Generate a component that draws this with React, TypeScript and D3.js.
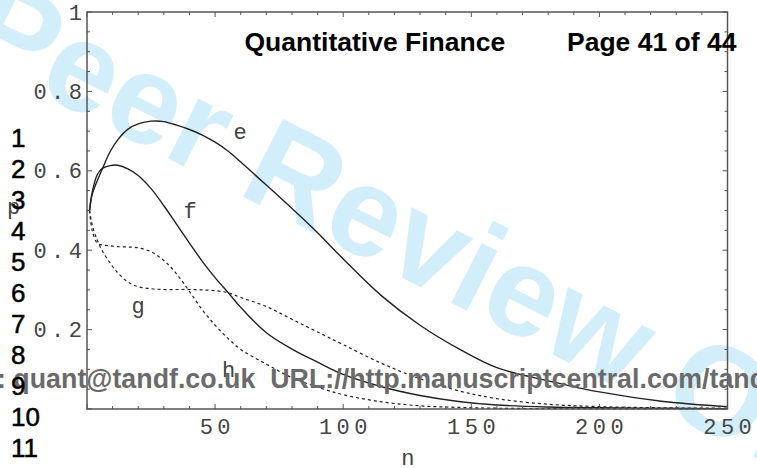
import React from 'react';
import * as d3 from 'd3';

// sample points along n, shared by all four curves
const nValues = [1, 2, 4, 6, 9, 12, 16, 20, 25, 30, 35, 40, 45, 50, 55, 60, 70, 80, 90, 100, 115, 130, 145, 160, 180, 200, 225, 250];

// solid curves
const seriesE = [0.5, 0.54, 0.575, 0.605, 0.648, 0.678, 0.705, 0.718, 0.725, 0.724, 0.715, 0.704, 0.69, 0.672, 0.65, 0.622, 0.564, 0.505, 0.444, 0.378, 0.285, 0.211, 0.152, 0.104, 0.071, 0.043, 0.019, 0.006];
const seriesF = [0.5, 0.545, 0.59, 0.606, 0.613, 0.614, 0.605, 0.588, 0.555, 0.512, 0.465, 0.418, 0.372, 0.331, 0.294, 0.256, 0.192, 0.151, 0.118, 0.087, 0.056, 0.034, 0.019, 0.01, 0.005, 0.003, 0.002, 0.001];
// dashed curves
const seriesG = [0.5, 0.465, 0.425, 0.398, 0.368, 0.343, 0.32, 0.308, 0.303, 0.301, 0.301, 0.301, 0.3, 0.298, 0.293, 0.281, 0.258, 0.226, 0.194, 0.162, 0.115, 0.076, 0.046, 0.026, 0.012, 0.006, 0.003, 0.002];
const seriesH = [0.5, 0.45, 0.418, 0.413, 0.411, 0.409, 0.408, 0.406, 0.396, 0.374, 0.34, 0.296, 0.25, 0.211, 0.178, 0.15, 0.113, 0.079, 0.055, 0.036, 0.018, 0.008, 0.004, 0.002, 0.001, 0.0005, 0.0003, 0.0002];

const xTickLabels = [50, 100, 150, 200, 250];
const yTickLabels = [0.2, 0.4, 0.6, 0.8, 1];

// curve names and where they sit (in data units)
const curveLabels = [
  { name: 'e', n: 59.8, p: 0.68 },
  { name: 'f', n: 40.2, p: 0.481 },
  { name: 'g', n: 19.9, p: 0.242 },
  { name: 'h', n: 55.3, p: 0.081 },
];

const lineNumbers = ['1', '2', '3', '4', '5', '6', '7', '8', '9', '10', '11'];

const W = 757;
const H = 468;
const margin = { top: 12, right: 29.5, bottom: 59, left: 87 };

const mono = '"Liberation Mono", "DejaVu Sans Mono", monospace';
const sans = '"Liberation Sans", Arial, sans-serif';
const LS = 4.5; // letter spacing of the tick labels

export default function App() {
  const x = d3.scaleLinear().domain([0, 250]).range([margin.left, W - margin.right]);
  const y = d3.scaleLinear().domain([0, 1]).range([H - margin.bottom, margin.top]);

  const line = d3.line<[number, number]>()
    .x(d => x(d[0]))
    .y(d => y(d[1]))
    .curve(d3.curveCatmullRom.alpha(0.5));

  const series = [
    { values: seriesE, dash: null },
    { values: seriesF, dash: null },
    { values: seriesG, dash: '3,3' },
    { values: seriesH, dash: '3,3' },
  ];

  const x0 = x(0), x1 = x(250), y0 = y(0), y1 = y(1);
  const xMinor = x.ticks(25);
  const xMajor = x.ticks(5);
  const yMinor = y.ticks(20);
  const yMajor = y.ticks(5);

  return (
    <svg width={W} height={H} style={{ position: 'absolute', left: 0, top: 0, background: '#fff' }}>
      {/* watermark */}
      <text
        transform="translate(-41,52) rotate(27)"
        fontFamily={sans}
        fontWeight="bold"
        fontSize={127}
        fill="#d3eefb"
        style={{ whiteSpace: 'pre' }}
      >
        Peer Review Only
      </text>

      {/* curves */}
      {series.map((s, i) => (
        <path
          key={i}
          d={line(nValues.map((n, j) => [n, s.values[j]] as [number, number])) || ''}
          fill="none"
          stroke="#222"
          strokeWidth={s.dash ? 1.2 : 1.4}
          strokeDasharray={s.dash || undefined}
        />
      ))}

      {/* frame */}
      <rect x={x0} y={y1} width={x1 - x0} height={y0 - y1} fill="none" stroke="#555" strokeWidth={1.5} />

      {/* ticks on all four sides */}
      <g stroke="#555" strokeWidth={1}>
        {xMinor.map(t => {
          const len = xMajor.includes(t) ? 5 : 3;
          return (
            <g key={'x' + t}>
              <line x1={x(t)} x2={x(t)} y1={y0} y2={y0 - len} />
              <line x1={x(t)} x2={x(t)} y1={y1} y2={y1 + len} />
            </g>
          );
        })}
        {yMinor.map(t => {
          const len = yMajor.some(m => Math.abs(m - t) < 1e-9) ? 5 : 3;
          return (
            <g key={'y' + t}>
              <line x1={x0} x2={x0 + len} y1={y(t)} y2={y(t)} />
              <line x1={x1} x2={x1 - len} y1={y(t)} y2={y(t)} />
            </g>
          );
        })}
      </g>

      {/* tick labels */}
      <g fontFamily={mono} fontSize={22} fill="#444" letterSpacing={LS}>
        {xTickLabels.map(t => (
          <text key={t} x={x(t) + LS / 2} y={434} textAnchor="middle">{t}</text>
        ))}
        {yTickLabels.map(t => (
          <text key={t} x={x0 + LS - 5} y={y(t) + 7.5} textAnchor="end">{d3.format('~g')(t)}</text>
        ))}
      </g>

      {/* axis and curve labels */}
      <g fontFamily={mono} fontSize={22} fill="#444">
        <text x={(x0 + x1) / 2 + 0.5} y={465} textAnchor="middle">n</text>
        <text x={13.5} y={214} textAnchor="middle">p</text>
        {curveLabels.map(c => (
          <text key={c.name} x={x(c.n)} y={y(c.p)} textAnchor="middle">{c.name}</text>
        ))}
      </g>

      {/* footer */}
      <text x={-3} y={388} fontFamily={sans} fontWeight="bold" fontSize={26.8} fill="#6a6a6a" style={{ whiteSpace: 'pre' }}>
        {': quant@tandf.co.uk  URL://http.manuscriptcentral.com/tand'}
      </text>

      {/* line numbers */}
      <g fontFamily={sans} fontSize={26} fill="#000" stroke="#000" strokeWidth={0.5}>
        {lineNumbers.map((s, i) => (
          <text key={s} x={11} y={147 + i * 31}>{s}</text>
        ))}
      </g>

      {/* header */}
      <g fontFamily={sans} fontWeight="bold" fontSize={26.5} fill="#000">
        <text x={244.5} y={51}>Quantitative Finance</text>
        <text x={567} y={51}>Page 41 of 44</text>
      </g>
    </svg>
  );
}
